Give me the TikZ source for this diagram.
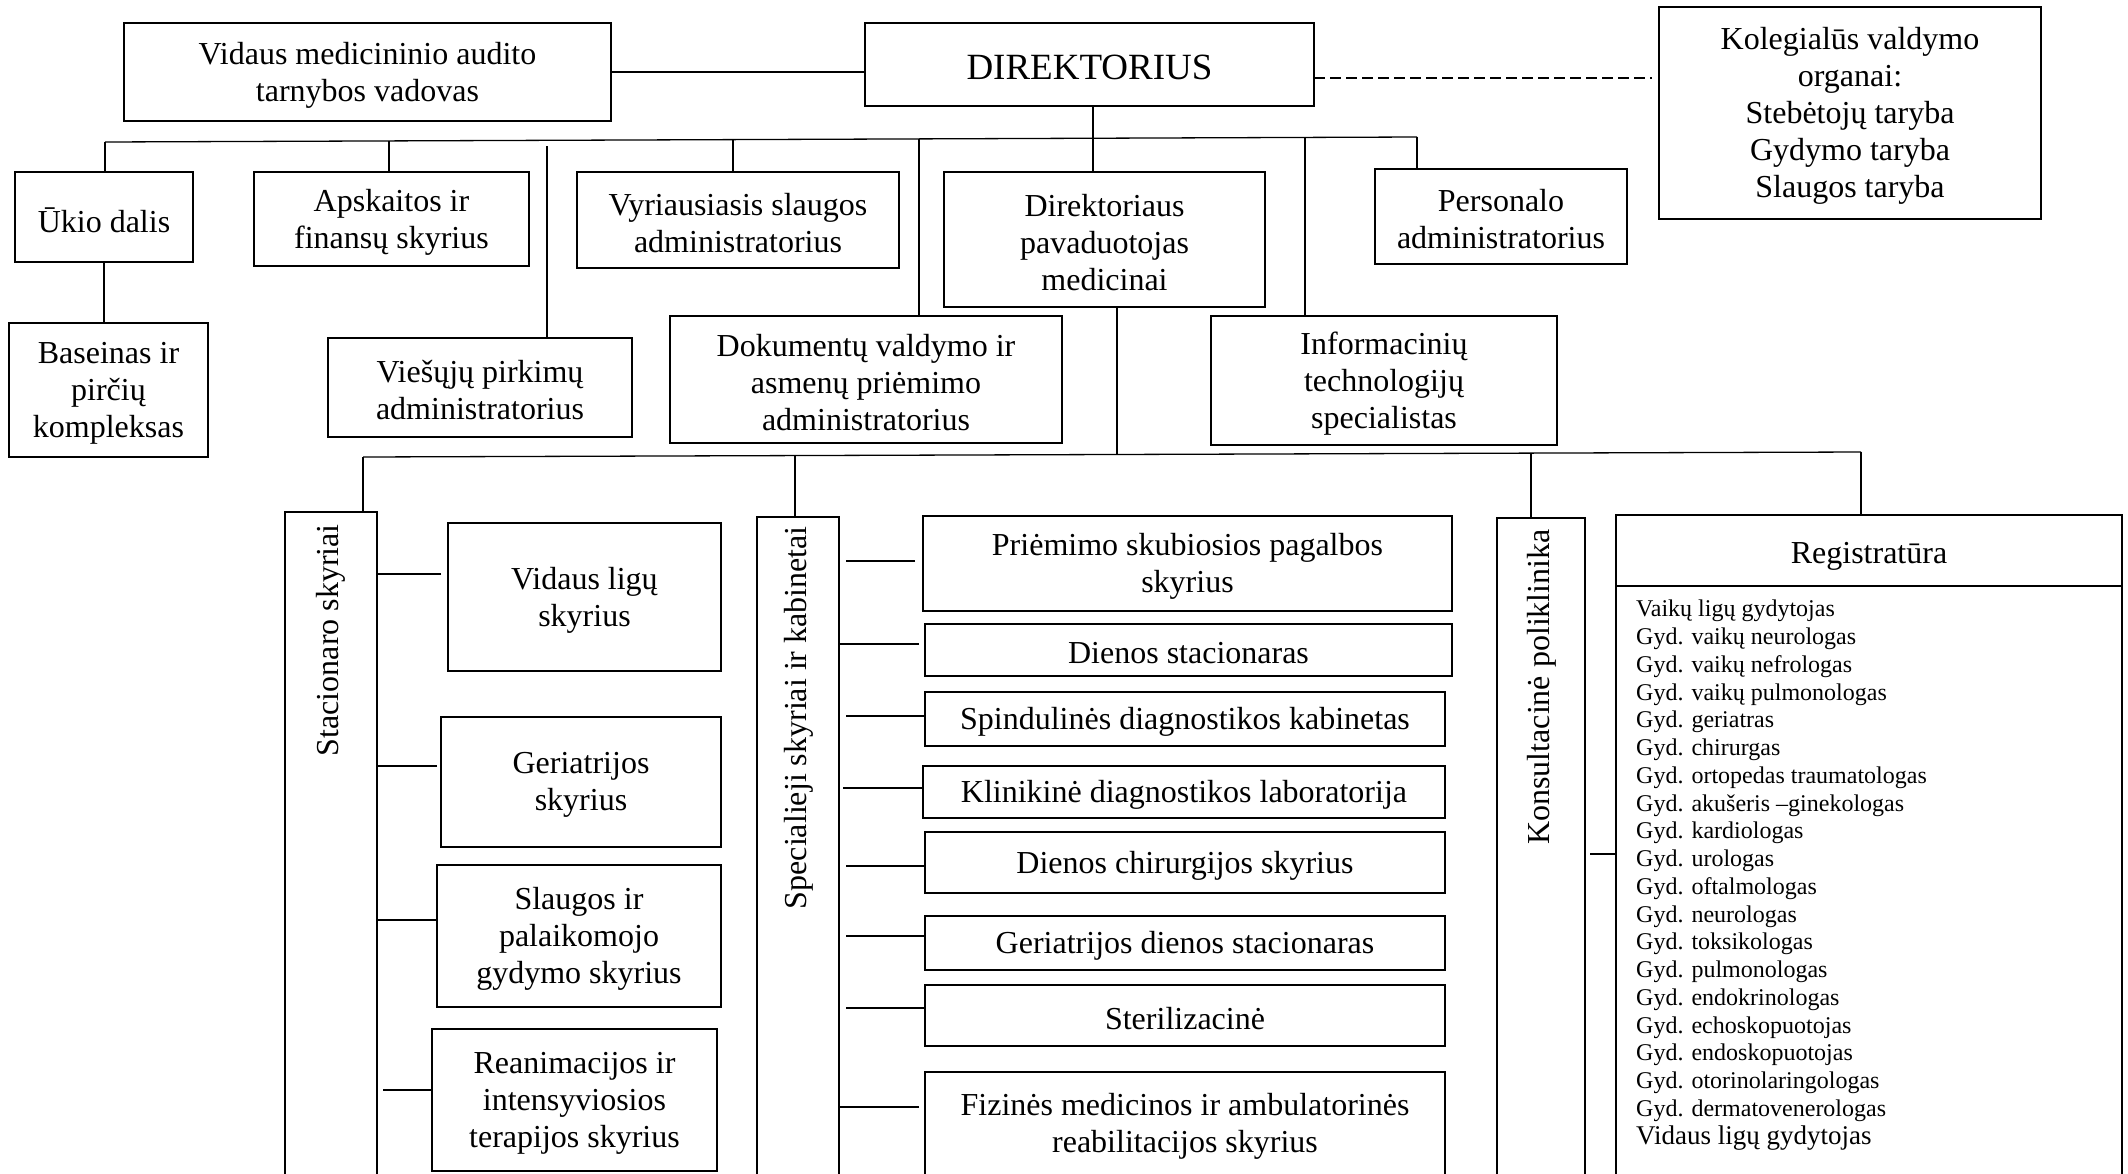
\documentclass[tikz,border=0pt]{standalone}
\usepackage{fontspec}
\setmainfont{Liberation Serif}
\usetikzlibrary{calc}
\tikzset{
  box/.style={draw, line width=2.2pt, rectangle, inner sep=0pt, outer sep=0pt},
  boxtext/.style={inner sep=0pt, align=center, font=\fontsize{32}{37}\selectfont},
  conn/.style={line width=1.3pt},
  vlabel/.style={rotate=90, anchor=east, inner sep=0pt, font=\fontsize{32}{37}\selectfont},
}
\newcommand\boxat[6]{%
  \node[box, minimum width={#4-#2}, minimum height={#5-#3}] (#1) at ({(#2+#4)/2},{(#3+#5)/2}) {};
  \node[boxtext] (#1-t) at ([yshift=-3pt]#1.center) {#6};}
\begin{document}
\begin{tikzpicture}[x=1pt,y=-1pt]
\useasboundingbox (0,0) rectangle (2128,1173);
\clip (0,0) rectangle (2128,1173);
\fill[white] (0,0) rectangle (2128,1173);

% ---- top level
\boxat{audit}{124}{23}{611}{121}{Vidaus medicininio audito\\tarnybos vadovas}
\boxat{dir}{865}{23}{1314}{106}{\fontsize{37}{42}\selectfont DIREKTORIUS}
\boxat{koleg}{1659}{7}{2041}{219}{Kolegialūs valdymo\\organai:\\Stebėtojų taryba\\Gydymo taryba\\Slaugos taryba}
\boxat{ukio}{15}{172}{193}{262}{Ūkio dalis}
\boxat{baseinas}{9}{323}{208}{457}{Baseinas ir\\pirčių\\kompleksas}
\boxat{apsk}{254}{172}{529}{266}{Apskaitos ir\\finansų skyrius}
\boxat{viesuju}{328}{338}{632}{437}{Viešųjų pirkimų\\administratorius}
\boxat{vyr}{577}{172}{899}{268}{Vyriausiasis slaugos\\administratorius}
\boxat{dok}{670}{316}{1062}{443}{Dokumentų valdymo ir\\asmenų priėmimo\\administratorius}
\boxat{dirpav}{944}{172}{1265}{307}{Direktoriaus\\pavaduotojas\\medicinai}
\boxat{info}{1211}{316}{1557}{445}{Informacinių\\technologijų\\specialistas}
\boxat{pers}{1375}{169}{1627}{264}{Personalo\\administratorius}

\draw[conn] (audit.east) -- (audit.east -| dir.west);
\coordinate (dashend) at (1652,78);
\draw[conn, dash pattern=on 11pt off 5pt] (dashend -| dir.east) -- (dashend);

\coordinate (tbL) at (105,142);
\coordinate (tbR) at (1417,137);
\coordinate (t2) at (389,141);
\coordinate (t3) at (547,140);
\coordinate (t4) at (733,140);
\coordinate (t5) at (919,139);
\coordinate (t6) at (1093,139);
\coordinate (t7) at (1305,138);
\draw[conn] (tbL) -- (tbR);
\draw[conn] (tbL) -- (tbL |- ukio.north);
\draw[conn] (t2) -- (t2 |- apsk.north);
\draw[conn] (t3) ++(0,6) -- (t3 |- viesuju.north);
\draw[conn] (t4) -- (t4 |- vyr.north);
\draw[conn] (t5) -- (t5 |- dok.north);
\draw[conn] (t6 |- dir.south) -- (t6 |- dirpav.north);
\draw[conn] (t7) -- (t7 |- info.north);
\draw[conn] (tbR) -- (tbR |- pers.north);
\draw[conn] (ukio.south) -- (ukio.south |- baseinas.north);

% ---- lower level
\coordinate (lb0) at (1117,455);
\coordinate (lbL) at (363,457);
\coordinate (lbR) at (1861,452);
\coordinate (lb2) at (795,456);
\coordinate (lb3) at (1531,453);
\draw[conn] (lb0 |- dirpav.south) -- (lb0);
\draw[conn] (lbL) -- (lbR);

\node[box, minimum width=92, minimum height=703] (stac) at (331,863.5) {};
\node[vlabel] (stacl) at (331,524) {Stacionaro skyriai};
\node[box, minimum width=82, minimum height=698] (spec) at (798,866) {};
\node[vlabel] (specl) at (799,526) {Specialieji skyriai ir kabinetai};
\node[box, minimum width=88, minimum height=697] (kons) at (1541,866.5) {};
\node[vlabel] (konsl) at (1542,529) {Konsultacinė poliklinika};
\node[box, minimum width=506, minimum height=71] (regh) at (1869,550.5) {};
\node[boxtext] (regh-t) at ([yshift=-6pt]regh.center) {Registratūra};
\node[box, minimum width=506, minimum height=629] (regb) at (1869,900.5) {};

\draw[conn] (lbL) -- (lbL |- stac.north);
\draw[conn] (lb2) -- (lb2 |- spec.north);
\draw[conn] (lb3) -- (lb3 |- kons.north);
\draw[conn] (lbR) -- (lbR |- regh.north);

% stacionaro items
\boxat{vl}{448}{523}{721}{671}{Vidaus ligų\\skyrius}
\boxat{ger}{441}{717}{721}{847}{Geriatrijos\\skyrius}
\boxat{slaug}{437}{865}{721}{1007}{Slaugos ir\\palaikomojo\\gydymo skyrius}
\boxat{rean}{432}{1029}{717}{1171}{Reanimacijos ir\\intensyviosios\\terapijos skyrius}
\draw[conn] (vl.west |- 0,574) ++(-7,0) -- (stac.east |- 0,574);
\draw[conn] (ger.west |- 0,766) ++(-4,0) -- (stac.east |- 0,766);
\draw[conn] (stac.east |- 0,920) -- (slaug.west |- 0,920);
\draw[conn] (stac.east |- 0,1090) ++(6,0) -- (rean.west |- 0,1090);

% specialieji items
\boxat{priem}{923}{516}{1452}{611}{Priėmimo skubiosios pagalbos\\skyrius}
\boxat{dstac}{925}{624}{1452}{676}{Dienos stacionaras}
\boxat{spind}{925}{692}{1445}{746}{Spindulinės diagnostikos kabinetas}
\boxat{klin}{923}{766}{1445}{818}{Klinikinė diagnostikos laboratorija}
\boxat{dchir}{925}{832}{1445}{893}{Dienos chirurgijos skyrius}
\boxat{gdstac}{925}{916}{1445}{970}{Geriatrijos dienos stacionaras}
\boxat{steril}{925}{985}{1445}{1046}{Sterilizacinė}
\boxat{fiz}{925}{1072}{1445}{1175}{Fizinės medicinos ir ambulatorinės\\reabilitacijos skyrius}
\draw[conn] (priem.west |- 0,561) ++(-8,0) -- ($(spec.east |- 0,561)+(7,0)$);
\draw[conn] (dstac.west |- 0,644) ++(-6,0) -- (spec.east |- 0,644);
\draw[conn] (spec.east |- 0,716) ++(7,0) -- (spind.west |- 0,716);
\draw[conn] (spec.east |- 0,788) ++(4,0) -- (klin.west |- 0,788);
\draw[conn] (spec.east |- 0,866) ++(7,0) -- (dchir.west |- 0,866);
\draw[conn] (spec.east |- 0,936) ++(7,0) -- (gdstac.west |- 0,936);
\draw[conn] (spec.east |- 0,1008) ++(7,0) -- (steril.west |- 0,1008);
\draw[conn] (fiz.west |- 0,1107) ++(-6,0) -- (spec.east |- 0,1107);

% konsultacine -> registratura
\draw[conn] (kons.east |- 0,854) ++(5,0) -- (regb.west |- 0,854);

\node[anchor=north west, inner sep=0pt, align=left, font=\fontsize{24}{27.75}\selectfont] (reglist) at (1636,600) {Vaikų ligų gydytojas\\
Gyd. vaikų neurologas\\
Gyd. vaikų nefrologas\\
Gyd. vaikų pulmonologas\\
Gyd. geriatras\\
Gyd. chirurgas\\
Gyd. ortopedas traumatologas\\
Gyd. akušeris –ginekologas\\
Gyd. kardiologas\\
Gyd. urologas\\
Gyd. oftalmologas\\
Gyd. neurologas\\
Gyd. toksikologas\\
Gyd. pulmonologas\\
Gyd. endokrinologas\\
Gyd. echoskopuotojas\\
Gyd. endoskopuotojas\\
Gyd. otorinolaringologas\\
Gyd. dermatovenerologas\\
{\fontsize{27}{27.75}\selectfont Vidaus ligų gydytojas}};
\end{tikzpicture}
\end{document}
